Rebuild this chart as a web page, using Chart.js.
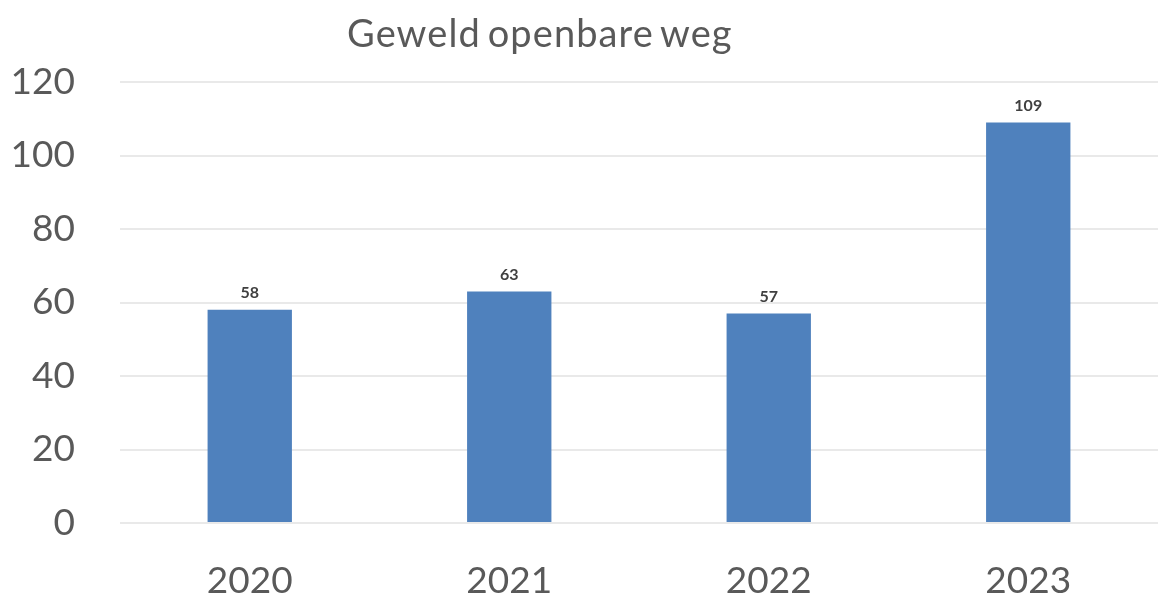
<!DOCTYPE html>
<html>
<head>
<meta charset="utf-8">
<script src="https://cdn.jsdelivr.net/npm/chart.js@4/dist/chart.umd.min.js"></script>
<style>
  html, body { margin: 0; padding: 0; background: #fff; }
  .box { position: relative; width: 1158px; height: 602px; }
  .box canvas { display: block; }
  .titre { position: absolute; top: 13px; left: 347px; font: 38px/1 Lato, sans-serif; color: #595959; white-space: nowrap; letter-spacing: 1.1px; word-spacing: -4px; }
</style>
</head>
<body>
<div class="box">
  <canvas id="graph01" width="1158" height="602"></canvas>
  <div class="titre">Geweld openbare weg</div>
</div>
<script>
// categories and values
const annees = ['2020', '2021', '2022', '2023'];
const incidents = [58, 63, 57, 109];
const yTicks = [0, 20, 40, 60, 80, 100, 120];

const COULEURS = {
  barre: '#4f81bd',
  texte: '#595959',
  grille: '#e9e9e9',
};

/**
 * value labels above the bars (no datalabels plugin available offline)
 */
const etiquettes = {
  id: 'etiquettes',
  afterDatasetsDraw(chart) {
    const ctx = chart.ctx;
    ctx.save();
    ctx.font = 'bold 16px Lato, sans-serif';
    ctx.fillStyle = '#404040';
    ctx.textAlign = 'center';
    ctx.textBaseline = 'middle';
    chart.getDatasetMeta(0).data.forEach((bar, i) => {
      ctx.fillText(String(incidents[i]), bar.x, bar.y - 17);
    });
    ctx.restore();
  }
};

function graph01() {
  let data = {
    labels: annees,
    datasets: [{
      label: 'Geweld openbare weg',
      data: incidents,
      backgroundColor: COULEURS.barre,
      borderWidth: 0,
      barPercentage: 0.325,
      categoryPercentage: 1,
    }]
  };
  let options = {
    responsive: false,
    animation: false,
    layout: { padding: { top: 82, right: 0, bottom: 0, left: 0 } },
    scales: {
      x: {
        afterFit: (axis) => { axis.height = 79; },
        border: { display: false },
        grid: { display: false, drawTicks: false },
        ticks: { color: COULEURS.texte, font: { family: 'Lato', size: 37 }, padding: 36 },
      },
      y: {
        min: 0, max: 120,
        afterBuildTicks: (axis) => { axis.ticks = yTicks.map(v => ({ value: v })); },
        afterFit: (axis) => { axis.width = 120; },
        border: { display: false },
        grid: { color: COULEURS.grille, lineWidth: 2, drawTicks: false },
        ticks: { color: COULEURS.texte, font: { family: 'Lato', size: 37 }, padding: 45 },
      }
    },
    plugins: {
      legend: { display: false },
      tooltip: { enabled: false },
      title: { display: false },
    }
  };
  let ctx = document.getElementById('graph01').getContext('2d');
  new Chart(ctx, { type: 'bar', data: data, options: options, plugins: [etiquettes] });
}

graph01();
</script>
</body>
</html>
